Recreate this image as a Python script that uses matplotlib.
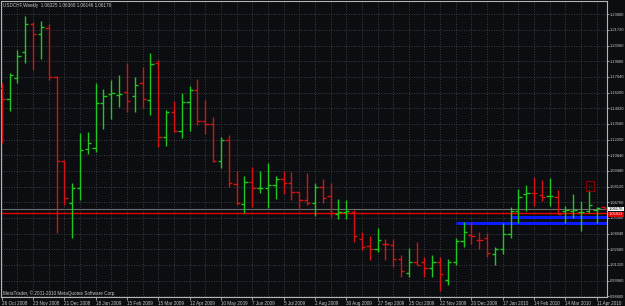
import numpy as np
import matplotlib
matplotlib.use("Agg")
import matplotlib.pyplot as plt
from matplotlib.patches import Rectangle

# weekly USDCHF bars
bar_open = [1.1668, 1.1573, 1.1755, 1.1981, 1.2224, 1.2137, 1.2189, 1.1764, 1.1035, 1.0670,
            1.0800, 1.1139, 1.1148, 1.1538, 1.1616, 1.1608, 1.1634, 1.1599, 1.1712, 1.1564,
            1.1885, 1.1243, 1.1460, 1.1295, 1.1547, 1.1651, 1.1382, 1.1356, 1.1035, 1.1217,
            1.0835, 1.0661, 1.0852, 1.0796, 1.0800, 1.0826, 1.0878, 1.0843, 1.0766, 1.0696,
            1.0670, 1.0809, 1.0731, 1.0575, 1.0592, 1.0592, 1.0358, 1.0297, 1.0271, 1.0314,
            1.0305, 1.0184, 1.0063, 1.0158, 1.0158, 1.0106, 1.0158, 1.0002, 1.0158, 1.0340,
            1.0392, 1.0349, 1.0366, 1.0227, 1.0271, 1.0401, 1.0601, 1.0748, 1.0757, 1.0740,
            1.0731, 1.0722, 1.0601, 1.0601, 1.0592, 1.0601, 1.0609, 1.06325]
bar_high = [1.1712, 1.1801, 1.1998, 1.2293, 1.2240, 1.2250, 1.2224, 1.1772, 1.1043, 1.0843,
            1.1278, 1.1286, 1.1712, 1.1660, 1.1738, 1.1781, 1.1885, 1.1764, 1.1850, 1.1972,
            1.1911, 1.1477, 1.1555, 1.1625, 1.1686, 1.1746, 1.1564, 1.1417, 1.1243, 1.1260,
            1.0948, 1.0904, 1.0983, 1.0948, 1.1017, 1.0904, 1.0948, 1.0939, 1.0766, 1.0930,
            1.0843, 1.0878, 1.0843, 1.0705, 1.0696, 1.0609, 1.0418, 1.0384, 1.0453, 1.0358,
            1.0358, 1.0219, 1.0279, 1.0332, 1.0201, 1.0219, 1.0201, 1.0184, 1.0366, 1.0505,
            1.0505, 1.0418, 1.0410, 1.0288, 1.0497, 1.0635, 1.0792, 1.0826, 1.0896, 1.0870,
            1.0887, 1.0783, 1.0644, 1.0748, 1.0687, 1.0783, 1.0635, 1.06368]
bar_low = [1.1191, 1.1469, 1.1712, 1.1885, 1.1824, 1.1920, 1.1738, 1.0410, 1.0653, 1.0366,
           1.0696, 1.1095, 1.1113, 1.1312, 1.1399, 1.1503, 1.1460, 1.1460, 1.1495, 1.1434,
           1.1156, 1.1165, 1.1286, 1.1234, 1.1295, 1.1347, 1.1269, 1.1026, 1.0974, 1.0809,
           1.0653, 1.0583, 1.0635, 1.0757, 1.0627, 1.0705, 1.0748, 1.0696, 1.0609, 1.0653,
           1.0557, 1.0670, 1.0549, 1.0531, 1.0531, 1.0332, 1.0262, 1.0175, 1.0245, 1.0175,
           1.0115, 1.0028, 1.0028, 1.0132, 1.0028, 1.0028, 0.9906, 0.9958, 1.0132, 1.0288,
           1.0314, 1.0271, 1.0201, 1.0132, 1.0227, 1.0366, 1.0497, 1.0601, 1.0644, 1.0687,
           1.0644, 1.0575, 1.0497, 1.0540, 1.0427, 1.0583, 1.0497, 1.06146]
bar_close = [1.1573, 1.1781, 1.1946, 1.2224, 1.2137, 1.2198, 1.1764, 1.1035, 1.0713, 1.0800,
             1.1130, 1.1191, 1.1538, 1.1599, 1.1621, 1.1612, 1.1555, 1.1694, 1.1573, 1.1877,
             1.1243, 1.1460, 1.1295, 1.1547, 1.1651, 1.1382, 1.1356, 1.1035, 1.1217, 1.0843,
             1.0670, 1.0852, 1.0800, 1.0800, 1.0826, 1.0878, 1.0843, 1.0766, 1.0696, 1.0670,
             1.0809, 1.0713, 1.0583, 1.0592, 1.0601, 1.0384, 1.0288, 1.0271, 1.0349, 1.0310,
             1.0184, 1.0080, 1.0158, 1.0132, 1.0106, 1.0158, 1.0054, 1.0158, 1.0340, 1.0418,
             1.0384, 1.0345, 1.0236, 1.0271, 1.0401, 1.0601, 1.0722, 1.0753, 1.0753, 1.0722,
             1.0735, 1.0575, 1.0609, 1.0609, 1.0596, 1.0653, 1.0630, 1.06176]

date_labels = ["26 Oct 2008", "23 Nov 2008", "21 Dec 2008", "18 Jan 2009", "15 Feb 2009",
               "15 Mar 2009", "12 Apr 2009", "10 May 2009", "7 Jun 2009", "5 Jul 2009",
               "2 Aug 2009", "30 Aug 2009", "27 Sep 2009", "25 Oct 2009", "22 Nov 2009",
               "20 Dec 2009", "17 Jan 2010", "14 Feb 2010", "14 Mar 2010", "11 Apr 2010"]
price_ticks = [0.98600, 0.99960, 1.01320, 1.02680, 1.04040, 1.05400, 1.06760, 1.08120,
               1.09480, 1.10840, 1.12200, 1.13560, 1.14920, 1.16280, 1.17640, 1.19000,
               1.20360, 1.21720, 1.23080]

bid_price = 1.06176
red_level = 1.05833
blue_upper = 1.05459   # starts at bar 65
blue_lower = 1.04990   # starts at bar 58

BG = "#0c0d10"
UP = "#1ec81e"
DOWN = "#d41414"
FRAME = "#b4b4b4"
TXT = "#c8c8c8"
FS = 3.3
FS_Y = 2.9

fig = plt.figure(figsize=(6.25, 3.06), dpi=100, facecolor=BG)
ax = fig.add_axes([1 / 625, 9 / 306, 606 / 625, 296 / 306])
ax.set_facecolor(BG)

n = len(bar_open)
x = np.arange(n)
o = np.array(bar_open); h = np.array(bar_high); l = np.array(bar_low); c = np.array(bar_close)
cols = [UP if c[i] >= o[i] else DOWN for i in range(n)]

ax.vlines(x, l, h, colors=cols, lw=1.0, zorder=3)
ax.hlines(o, x - 0.42, x, colors=cols, lw=1.0, zorder=3)
ax.hlines(c, x, x + 0.42, colors=cols, lw=1.0, zorder=3)

# level lines
ax.axhline(bid_price, color="#6e6e6e", lw=0.8, zorder=2)
ax.axhline(red_level, color="#e80000", lw=1.0, zorder=2)
ax.hlines(blue_upper, 65, 80, color="#0a1cff", lw=2.2, zorder=2)
ax.hlines(blue_lower, 58, 80, color="#0a1cff", lw=2.2, zorder=2)

# small alert box near the last bars
ax.add_patch(Rectangle((74.6, 1.0774), 1.0, 0.0087, fill=False, ec="#8b0000", lw=0.8, zorder=4))
ax.text(75.1, 1.0817, "h", color="#8b0000", fontsize=3, ha="center", va="center", zorder=4)

ax.set_xlim(-0.09, 77.31)
ax.set_ylim(0.98541, 1.24234)

# grid
ax.set_xticks(np.arange(0, 4 * len(date_labels), 4))
ax.set_xticks(np.arange(2, 78, 4), minor=True)
ax.set_xticklabels(date_labels, ha="left")
ax.set_yticks(price_ticks)
ax.set_yticklabels(["%.5f" % p for p in price_ticks])
ax.yaxis.tick_right()
ax.grid(True, which="both", color="#4a4e54", lw=0.6, ls=(0, (1, 2)))
ax.set_axisbelow(True)

ax.tick_params(axis="both", colors=FRAME, labelcolor=TXT, length=2, width=0.6, pad=1)
ax.tick_params(axis="x", labelsize=FS)
ax.tick_params(axis="y", labelsize=FS_Y, length=1.5, pad=0.6)
ax.tick_params(axis="x", which="minor", length=0)
for lab in ax.get_xticklabels():
    lab.set_fontfamily("Liberation Sans")
for lab in ax.get_yticklabels():
    lab.set_fontfamily("Liberation Sans")

for s in ax.spines.values():
    s.set_color(FRAME)
    s.set_linewidth(0.8)

# price labels on the axis
ax.text(1.003, bid_price, "1.06176", transform=ax.get_yaxis_transform(), fontsize=FS_Y,
        family="Liberation Sans", color="black", va="center", ha="left",
        bbox=dict(boxstyle="square,pad=0.1", fc="white", ec="none"), clip_on=False, zorder=6)
ax.text(1.003, red_level - 0.0012, "1.05833", transform=ax.get_yaxis_transform(), fontsize=FS_Y,
        family="Liberation Sans", color="white", va="center", ha="left",
        bbox=dict(boxstyle="square,pad=0.1", fc="#e00000", ec="none"), clip_on=False, zorder=5)

fig.text(3 / 625, 1 - 5 / 306, "USDCHF,Weekly  1.06325 1.06368 1.06146 1.06176", color=TXT,
         fontsize=FS, family="Liberation Sans", va="center", ha="left")
fig.text(3 / 625, 1 - 293 / 306, "MetaTrader, \u00a9 2001-2010 MetaQuotes Software Corp.", color=TXT,
         fontsize=FS, family="Liberation Sans", va="center", ha="left")

fig.savefig("out.png", dpi=100, facecolor=BG)
